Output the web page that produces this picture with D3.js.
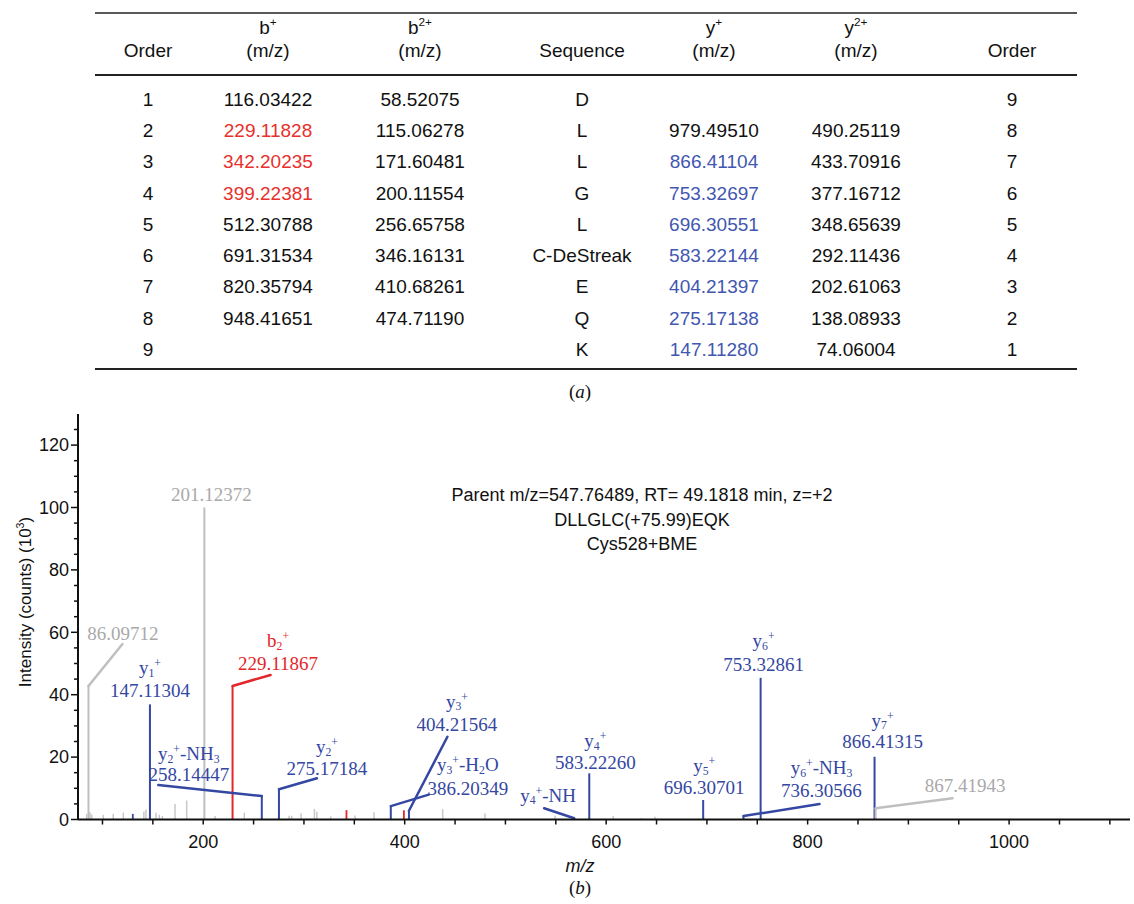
<!DOCTYPE html>
<html><head><meta charset="utf-8">
<script src="https://cdn.jsdelivr.net/npm/d3@7"></script>
<style>body{margin:0;background:#fff} svg{display:block}</style>
</head><body>
<svg id="chart" width="1134" height="904"></svg>
<script>
// ================= DATA =================
// (a) fragment table
const tableHeads1 = ["", "b^{+}", "b^{2+}", "", "y^{+}", "y^{2+}", ""];
const tableHeads2 = ["Order", "(m/z)", "(m/z)", "Sequence", "(m/z)", "(m/z)", "Order"];
const orderB = [1, 2, 3, 4, 5, 6, 7, 8, 9];
const bPlus = ["116.03422", "229.11828", "342.20235", "399.22381", "512.30788", "691.31534", "820.35794", "948.41651", ""];
const b2Plus = ["58.52075", "115.06278", "171.60481", "200.11554", "256.65758", "346.16131", "410.68261", "474.71190", ""];
const sequence = ["D", "L", "L", "G", "L", "C-DeStreak", "E", "Q", "K"];
const yPlus = ["", "979.49510", "866.41104", "753.32697", "696.30551", "583.22144", "404.21397", "275.17138", "147.11280"];
const y2Plus = ["", "490.25119", "433.70916", "377.16712", "348.65639", "292.11436", "202.61063", "138.08933", "74.06004"];
const orderY = [9, 8, 7, 6, 5, 4, 3, 2, 1];
const bMatched = [false, true, true, true, false, false, false, false, false];
const yMatched = [false, false, true, true, true, true, true, true, true];

// (b) spectrum
const xTicks = [200, 400, 600, 800, 1000];
const yTicks = [0, 20, 40, 60, 80, 100, 120];
const infoLines = ["Parent m/z=547.76489, RT= 49.1818 min, z=+2", "DLLGLC(+75.99)EQK", "Cys528+BME"];

// annotated peaks
const annMz  = [86.09712, 201.12372, 147.11304, 229.11867, 258.14447, 275.17184, 386.20349, 404.21564, 568.2, 583.22260, 696.30701, 753.32861, 736.30566, 866.41315, 867.41943];
const annInt = [42.8, 100, 36.9, 42.8, 7.5, 9.7, 4.3, 2.8, 0.4, 14.8, 6.25, 45.4, 1.1, 20.1, 3.6];
const annType = ["other", "other", "y", "b", "y", "y", "y", "y", "y", "y", "y", "y", "y", "y", "other"];
const annIon = ["", "", "y_{1}^{+}", "b_{2}^{+}", "y_{2}^{+}-NH_{3}", "y_{2}^{+}", "y_{3}^{+}-H_{2}O", "y_{3}^{+}", "y_{4}^{+}-NH", "y_{4}^{+}", "y_{5}^{+}", "y_{6}^{+}", "y_{6}^{+}-NH_{3}", "y_{7}^{+}", ""];
const annLabel = ["86.09712", "201.12372", "147.11304", "229.11867", "258.14447", "275.17184", "386.20349", "404.21564", "", "583.22260", "696.30701", "753.32861", "736.30566", "866.41315", "867.41943"];

// small unlabelled peaks
const noiseMz  = [84.3, 87.6, 89.3, 100.8, 110.7, 120.7, 141.1, 143.2, 153.1, 156.4, 159.4, 172.0, 183.6, 211.7, 240.8, 285.2, 287.8, 297.1, 310.4, 312.8, 326.6, 350.7, 369.5, 437.7, 479.7, 549.2, 607.1, 635.0, 648.4];
const noiseInt = [1.8, 2.3, 1.6, 1.5, 1.8, 2.2, 2.6, 3.2, 2.2, 1.5, 1.1, 5.0, 6.1, 1.1, 2.2, 1.2, 1.2, 2.0, 3.4, 2.5, 1.0, 1.3, 2.3, 3.3, 2.0, 1.3, 1.1, 0.5, 0.9];
const smallMz  = [130.09, 342.20, 399.22];
const smallInt = [1.8, 3.0, 3.0];
const smallType = ["y", "b", "b"];

// ================= LAYOUT / STYLE =================
const sans = "'Liberation Sans', Arial, sans-serif";
const serif = "'Liberation Serif', 'Times New Roman', serif";
const col = { y: "#3447a2", b: "#e3262b", other: "#bfbfbf" };
const txtCol = { y: "#3447a2", b: "#e3262b", other: "#a9a9a9" };
const tabBlue = "#4257b0", tabRed = "#e8302c";

// label placement: leader end offset & text offsets relative to peak top (px)
const labelLayout = [
  { lead: [34, -42], dx: 34.5, num: -46 },
  { lead: null, dx: 7, num: -7 },
  { lead: null, dx: 0, ion: -30.5, num: -7.5 },
  { lead: [38, -11], dx: 45.5, ion: -39, num: -15.5 },
  { lead: [-103.5, -11], dx: -73, ion: -36, num: -15 },
  { lead: [38, -11], dx: 48, ion: -36, num: -14 },
  { lead: [38, -11.5], dx: 77, ion: -35, num: -11 },
  { lead: [38.5, -74], dx: 48, ion: -103, num: -80 },
  { lead: [-30, -10], dx: -26, ion: -16.5 },
  { lead: null, dx: 6, ion: -26, num: -4 },
  { lead: null, dx: 1, ion: -28, num: -6 },
  { lead: null, dx: 3, ion: -31, num: -6.5 },
  { lead: [76, -12], dx: 78, ion: -42, num: -19.5 },
  { lead: null, dx: 8, ion: -30, num: -8.5 },
  { lead: [77, -10], dx: 89.5, num: -16.6 }
];

const svg = d3.select("#chart");

// rich text helper: "y_{1}^{+}-NH_{3}"
function rich(sel, str, size, supK) {
  const re = /([_^])\{([^}]*)\}|([^_^]+)/g;
  const up = supK === undefined ? 0.36 : supK;
  let m, shift = 0;
  while ((m = re.exec(str)) !== null) {
    let target = 0, text, fs = size;
    if (m[3] !== undefined) { text = m[3]; target = 0; }
    else { text = m[2]; fs = size * 0.62; target = m[1] === "_" ? size * 0.14 : -size * up; }
    sel.append("tspan").attr("dy", target - shift).style("font-size", fs + "px").text(text);
    shift = target;
  }
}

// ================= TABLE =================
const colX = [148, 268, 420, 582, 714, 856, 1012];
const tbl = svg.append("g").style("font-family", sans).style("font-size", "19px").attr("fill", "#111");
[13, 75, 369].forEach((yy, i) => {
  tbl.append("line").attr("x1", 95).attr("x2", 1077).attr("y1", yy).attr("y2", yy)
    .attr("stroke", "#222").attr("stroke-width", i === 0 ? 1.5 : 2.2);
});
tableHeads1.forEach((h, i) => {
  if (!h) return;
  const t = tbl.append("text").attr("x", colX[i]).attr("y", 34).attr("text-anchor", "middle");
  rich(t, h, 19, 0.42);
});
tableHeads2.forEach((h, i) => {
  tbl.append("text").attr("x", colX[i]).attr("y", 57).attr("text-anchor", "middle").text(h);
});
const rowY = d3.scaleLinear().domain([0, 8]).range([105.8, 355.8]);
const cols = [orderB, bPlus, b2Plus, sequence, yPlus, y2Plus, orderY];
cols.forEach((arr, ci) => {
  arr.forEach((v, ri) => {
    if (v === "") return;
    let fill = "#111";
    if (ci === 1 && bMatched[ri]) fill = tabRed;
    if (ci === 4 && yMatched[ri]) fill = tabBlue;
    tbl.append("text").attr("x", colX[ci]).attr("y", rowY(ri)).attr("text-anchor", "middle")
      .attr("fill", fill).text(v);
  });
});
// caption (a)
const capA = svg.append("text").attr("x", 580).attr("y", 398).attr("text-anchor", "middle")
  .style("font-family", serif).style("font-size", "19px").attr("fill", "#111");
capA.append("tspan").text("(");
capA.append("tspan").style("font-style", "italic").text("a");
capA.append("tspan").text(")");

// ================= SPECTRUM =================
const x = d3.scaleLinear().domain([75.7, 1120]).range([78, 1130]);
const y = d3.scaleLinear().domain([0, 130]).range([819.5, 413.9]);

const g = svg.append("g");

// noise peaks
g.selectAll("line.noise").data(noiseMz).enter().append("line")
  .attr("x1", d => x(d)).attr("x2", d => x(d))
  .attr("y1", y(0)).attr("y2", (d, i) => y(noiseInt[i]))
  .attr("stroke", "#c8c8c8").attr("stroke-width", 1.5);
g.selectAll("line.small").data(smallMz).enter().append("line")
  .attr("x1", d => x(d)).attr("x2", d => x(d))
  .attr("y1", y(0)).attr("y2", (d, i) => y(smallInt[i]))
  .attr("stroke", (d, i) => col[smallType[i]]).attr("stroke-width", 1.8);

// annotated peaks
annMz.forEach((mz, i) => {
  const px = x(mz), py = y(annInt[i]);
  const c = col[annType[i]], tc = txtCol[annType[i]];
  const L = labelLayout[i];
  g.append("line").attr("x1", px).attr("x2", px).attr("y1", y(0)).attr("y2", py)
    .attr("stroke", c).attr("stroke-width", 2);
  if (L.lead) {
    g.append("line").attr("x1", px).attr("y1", py).attr("x2", px + L.lead[0]).attr("y2", py + L.lead[1])
      .attr("stroke", c).attr("stroke-width", 2.5).attr("stroke-linecap", "round");
  }
  if (annIon[i]) {
    const t = g.append("text").attr("x", px + L.dx).attr("y", py + L.ion).attr("text-anchor", "middle")
      .style("font-family", serif).style("font-size", "19px").attr("fill", tc);
    rich(t, annIon[i], 19);
  }
  if (annLabel[i]) {
    g.append("text").attr("x", px + L.dx).attr("y", py + L.num).attr("text-anchor", "middle")
      .style("font-family", serif).style("font-size", "19px").attr("fill", tc).text(annLabel[i]);
  }
});

// axes
const axG = svg.append("g").style("font-family", sans).style("font-size", "18px");
axG.append("line").attr("x1", x.range()[0]).attr("x2", x.range()[1]).attr("y1", y(0)).attr("y2", y(0))
  .attr("stroke", "#111").attr("stroke-width", 2);
axG.append("line").attr("x1", x.range()[0]).attr("x2", x.range()[0]).attr("y1", y(0)).attr("y2", y.range()[1])
  .attr("stroke", "#111").attr("stroke-width", 2);
// x ticks
d3.range(100, 1101, 50).forEach(v => {
  axG.append("line").attr("x1", x(v)).attr("x2", x(v)).attr("y1", y(0)).attr("y2", y(0) + 5)
    .attr("stroke", "#111").attr("stroke-width", 1.5);
});
xTicks.forEach(v => {
  axG.append("text").attr("x", x(v)).attr("y", 848).attr("text-anchor", "middle").attr("fill", "#111").text(v);
});
// y ticks
d3.range(0, 126, 5).forEach(v => {
  const major = v % 20 === 0;
  axG.append("line").attr("x1", x.range()[0] - (major ? 7 : 4)).attr("x2", x.range()[0])
    .attr("y1", y(v)).attr("y2", y(v)).attr("stroke", "#111").attr("stroke-width", 1.5);
});
yTicks.forEach(v => {
  axG.append("text").attr("x", 69).attr("y", y(v)).attr("dy", "0.35em").attr("text-anchor", "end")
    .attr("fill", "#111").text(v);
});
// y label
const yl = axG.append("text").attr("transform", "translate(31,602) rotate(-90)").attr("text-anchor", "middle")
  .style("font-size", "17px").attr("fill", "#111");
rich(yl, "Intensity (counts) (10^{3})", 17, 0.42);
// x label
axG.append("text").attr("x", 580).attr("y", 872).attr("text-anchor", "middle").style("font-style", "italic")
  .attr("fill", "#111").text("m/z");
// caption (b)
const capB = svg.append("text").attr("x", 580).attr("y", 894).attr("text-anchor", "middle")
  .style("font-family", serif).style("font-size", "19px").attr("fill", "#111");
capB.append("tspan").text("(");
capB.append("tspan").style("font-style", "italic").text("b");
capB.append("tspan").text(")");

// info text
infoLines.forEach((s, i) => {
  svg.append("text").attr("x", 642).attr("y", 501 + i * 24.5).attr("text-anchor", "middle")
    .style("font-family", sans).style("font-size", "18px").attr("fill", "#111").text(s);
});
</script>
</body></html>
